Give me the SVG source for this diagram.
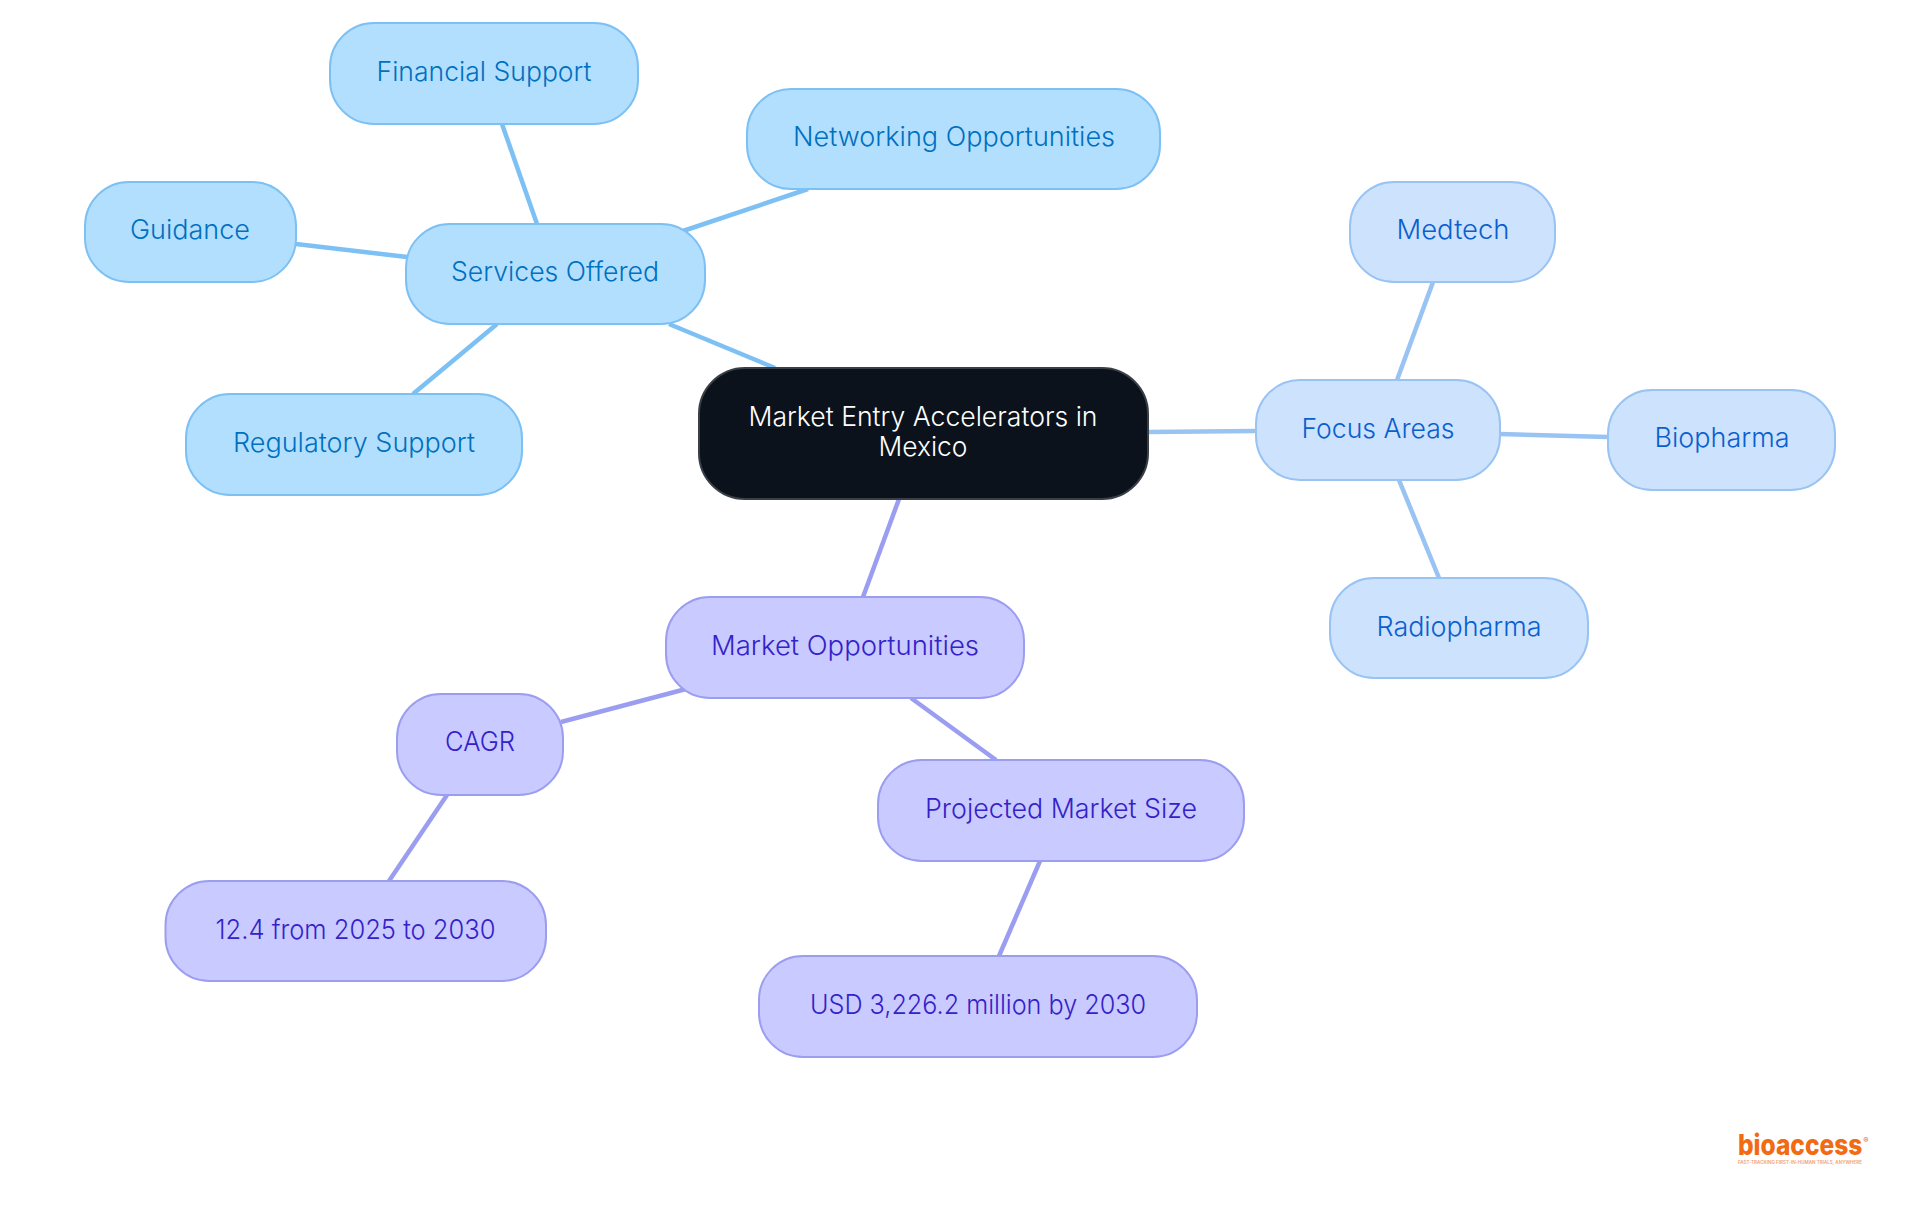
<svg xmlns="http://www.w3.org/2000/svg" width="1920" height="1215" viewBox="0 0 1920 1215">
<style>
text{font-family:Inter,"Noto Sans","Liberation Sans",sans-serif;font-size:27px;font-weight:350;text-anchor:middle}
.e{fill:none;stroke-width:4.5}
.a{stroke:#7dc0f3}.b{stroke:#98c3f3}.c{stroke:#9b9ef0}
rect{stroke-width:2}
.A rect{fill:#b3dfff;stroke:#7dc0f3}.A text{fill:#0070c0}
.B rect{fill:#cce2fd;stroke:#98c3f3}.B text{fill:#0a5fcf}
.C rect{fill:#c9caff;stroke:#9b9ef0}.C text{fill:#3422c8}
</style>
<rect width="1920" height="1215" fill="#fff"/>
<g id="connectors">
<path class="e a" d="M669 324L775 368"/>
<path class="e a" d="M502 124L537 224"/>
<path class="e a" d="M683 231L808 189"/>
<path class="e a" d="M296 244L407 257"/>
<path class="e a" d="M497 324L413 394"/>
<path class="e b" d="M1148 432L1256 431"/>
<path class="e b" d="M1433 282L1397 380"/>
<path class="e b" d="M1500 434L1608 437"/>
<path class="e b" d="M1399 480L1439 578"/>
<path class="e c" d="M899 499L863 597"/>
<path class="e c" d="M686 689L561 722"/>
<path class="e c" d="M911 698L996 760"/>
<path class="e c" d="M447 795L389 881"/>
<path class="e c" d="M1040 861L999 956"/>
</g>
<g id="root"><rect x="699" y="368" width="449" height="131" rx="46" fill="#0b121b" stroke="#3a3f46"/><text x="923" y="426" fill="#fff" textLength="349" lengthAdjust="spacingAndGlyphs">Market Entry Accelerators in</text><text x="923" y="456" fill="#fff" textLength="89" lengthAdjust="spacingAndGlyphs">Mexico</text></g>
<g id="services" class="A"><rect x="406" y="224" width="299" height="100" rx="44"/><text x="555" y="281" textLength="208" lengthAdjust="spacingAndGlyphs">Services Offered</text></g>
<g id="financial" class="A"><rect x="330" y="23" width="308" height="101" rx="44"/><text x="484" y="81" textLength="215" lengthAdjust="spacingAndGlyphs">Financial Support</text></g>
<g id="networking" class="A"><rect x="747" y="89" width="413" height="100" rx="44"/><text x="954" y="146" textLength="322" lengthAdjust="spacingAndGlyphs">Networking Opportunities</text></g>
<g id="guidance" class="A"><rect x="85" y="182" width="211" height="100" rx="44"/><text x="190" y="239" textLength="120" lengthAdjust="spacingAndGlyphs">Guidance</text></g>
<g id="regulatory" class="A"><rect x="186" y="394" width="336" height="101" rx="44"/><text x="354" y="452" textLength="242" lengthAdjust="spacingAndGlyphs">Regulatory Support</text></g>
<g id="focus" class="B"><rect x="1256" y="380" width="244" height="100" rx="44"/><text x="1378" y="438" textLength="153" lengthAdjust="spacingAndGlyphs">Focus Areas</text></g>
<g id="medtech" class="B"><rect x="1350" y="182" width="205" height="100" rx="44"/><text x="1453" y="239" textLength="113" lengthAdjust="spacingAndGlyphs">Medtech</text></g>
<g id="biopharma" class="B"><rect x="1608" y="390" width="227" height="100" rx="44"/><text x="1722" y="447" textLength="135" lengthAdjust="spacingAndGlyphs">Biopharma</text></g>
<g id="radiopharma" class="B"><rect x="1330" y="578" width="258" height="100" rx="44"/><text x="1459" y="636" textLength="165" lengthAdjust="spacingAndGlyphs">Radiopharma</text></g>
<g id="opportunities" class="C"><rect x="666" y="597" width="358" height="101" rx="44"/><text x="845" y="655" textLength="268" lengthAdjust="spacingAndGlyphs">Market Opportunities</text></g>
<g id="cagr" class="C"><rect x="397" y="694" width="166" height="101" rx="44"/><text x="480" y="751" textLength="70" lengthAdjust="spacingAndGlyphs">CAGR</text></g>
<g id="projected" class="C"><rect x="878" y="760" width="366" height="101" rx="44"/><text x="1061" y="818" textLength="272" lengthAdjust="spacingAndGlyphs">Projected Market Size</text></g>
<g id="cagr-value" class="C"><rect x="165.500" y="881" width="380.500" height="100" rx="44"/><text x="355.500" y="939" textLength="280" lengthAdjust="spacingAndGlyphs">12.4 from 2025 to 2030</text></g>
<g id="size-value" class="C"><rect x="759" y="956" width="438" height="101" rx="44"/><text x="978" y="1014" textLength="336" lengthAdjust="spacingAndGlyphs">USD 3,226.2 million by 2030</text></g>
<g id="logo"><text transform="translate(1738 1155) scale(.875 1)" style="font-size:28px;font-weight:800;text-anchor:start" fill="#f26a12">bioaccess</text><text x="1866" y="1143" style="font-size:8px;font-weight:600" fill="#f26a12">®</text><text transform="translate(1738 1163.500)" style="font-size:4.200px;font-weight:600;text-anchor:start" fill="#f2a070" textLength="124" lengthAdjust="spacingAndGlyphs">FAST-TRACKING FIRST-IN-HUMAN TRIALS, ANYWHERE</text></g>
</svg>
